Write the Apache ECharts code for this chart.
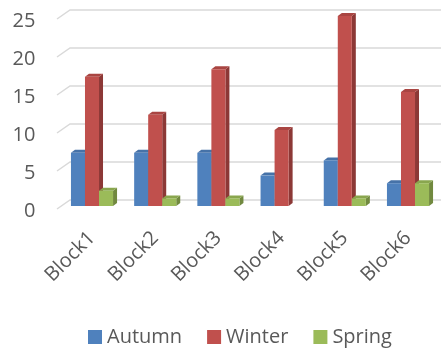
<!DOCTYPE html>
<html>
<head>
<meta charset="utf-8">
<script src="https://cdn.jsdelivr.net/npm/echarts@6/dist/echarts.min.js"></script>
<style>
  html, body { margin: 0; padding: 0; background: #fff; }
  #main { width: 441px; height: 352px; }
</style>
</head>
<body>
<div id="main"></div>
<script>
// Seasonal values per block
const categories = ['Block1', 'Block2', 'Block3', 'Block4', 'Block5', 'Block6'];
const autumn = [7, 7, 7, 4, 6, 3];
const winter = [17, 12, 18, 10, 25, 15];
const spring = [2, 1, 1, 0, 1, 3];
const yTicks = [0, 5, 10, 15, 20, 25];

const TEXT = '#595959';
const FONT = 'Open Sans';

// Shades for each series: front face, side face, top face
const shades = {
  Autumn: { front: '#4F81BD', side: '#385D8A', top: '#4672A8' },
  Winter: { front: '#C0504D', side: '#8C3836', top: '#A94542' },
  Spring: { front: '#9BBB59', side: '#71893F', top: '#89A64E' }
};

// Depth offset of the pseudo-3D bars
const DX = 4, DY = -3;

function barRenderer(slot, s) {
  return function (params, api) {
    const cat = api.value(0);
    const val = api.value(1);
    if (!val) return null;
    const band = api.size([1, 0])[0];
    const w = band * 0.222;
    const base = api.coord([cat, 0]);
    const top = api.coord([cat, val]);
    const x0 = base[0] + (slot - 0.5) * w;
    const yT = top[1], yB = base[1];
    return {
      type: 'group',
      children: [
        { type: 'polygon',
          shape: { points: [[x0 + w, yT], [x0 + w + DX, yT + DY], [x0 + w + DX, yB + DY], [x0 + w, yB]] },
          style: { fill: s.side } },
        { type: 'polygon',
          shape: { points: [[x0, yT], [x0 + DX, yT + DY], [x0 + w + DX, yT + DY], [x0 + w, yT]] },
          style: { fill: s.top } },
        { type: 'rect',
          shape: { x: x0, y: yT, width: w, height: yB - yT },
          style: { fill: s.front } }
      ]
    };
  };
}

// Back-wall gridlines with a short diagonal from the front edge
function gridRenderer(params, api) {
  const cs = params.coordSys;
  const p = api.coord([0, api.value(1)]);
  const y = p[1];
  return {
    type: 'polyline',
    shape: { points: [[cs.x - 3.4, y + 3], [cs.x + 9.6, y - 6], [cs.x + cs.width + 5, y - 6]] },
    style: { stroke: '#D9D9D9', lineWidth: 1.5, fill: null }
  };
}

function seriesData(arr) {
  return arr.map((v, i) => [i, v]);
}

const chart = echarts.init(document.getElementById('main'), null, { renderer: 'canvas' });
chart.setOption({
  animation: false,
  backgroundColor: '#fff',
  textStyle: { fontFamily: FONT },
  grid: { left: 60.4, right: 1.4, top: 16, bottom: 146, outerBoundsMode: 'none' },
  legend: {
    data: ['Autumn', 'Winter', 'Spring'],
    left: 83,
    top: 322,
    icon: 'rect',
    itemWidth: 14,
    itemHeight: 14,
    itemGap: 25,
    textStyle: { color: TEXT, fontSize: 20, fontFamily: FONT }
  },
  xAxis: {
    type: 'category',
    data: categories,
    axisLine: { show: false },
    axisTick: { show: false },
    axisLabel: { rotate: 45, margin: 29, fontSize: 20, color: TEXT, fontFamily: FONT }
  },
  yAxis: {
    type: 'value',
    min: 0,
    max: 25,
    interval: 5,
    axisLine: { show: false },
    axisTick: { show: false },
    splitLine: { show: false },
    axisLabel: { margin: 25, fontSize: 20, color: TEXT, fontFamily: FONT, verticalAlign: 'top', lineHeight: 20, padding: [-5, 0, 0, 0] }
  },
  series: [
    { type: 'custom', name: 'grid', renderItem: gridRenderer, data: yTicks.map(v => [0, v]), silent: true, z: 1 },
    { type: 'custom', name: 'Autumn', renderItem: barRenderer(-1, shades.Autumn), data: seriesData(autumn),
      itemStyle: { color: shades.Autumn.front }, encode: { x: 0, y: 1 }, z: 2 },
    { type: 'custom', name: 'Winter', renderItem: barRenderer(0, shades.Winter), data: seriesData(winter),
      itemStyle: { color: shades.Winter.front }, encode: { x: 0, y: 1 }, z: 2 },
    { type: 'custom', name: 'Spring', renderItem: barRenderer(1, shades.Spring), data: seriesData(spring),
      itemStyle: { color: shades.Spring.front }, encode: { x: 0, y: 1 }, z: 2 }
  ]
});
</script>
</body>
</html>
